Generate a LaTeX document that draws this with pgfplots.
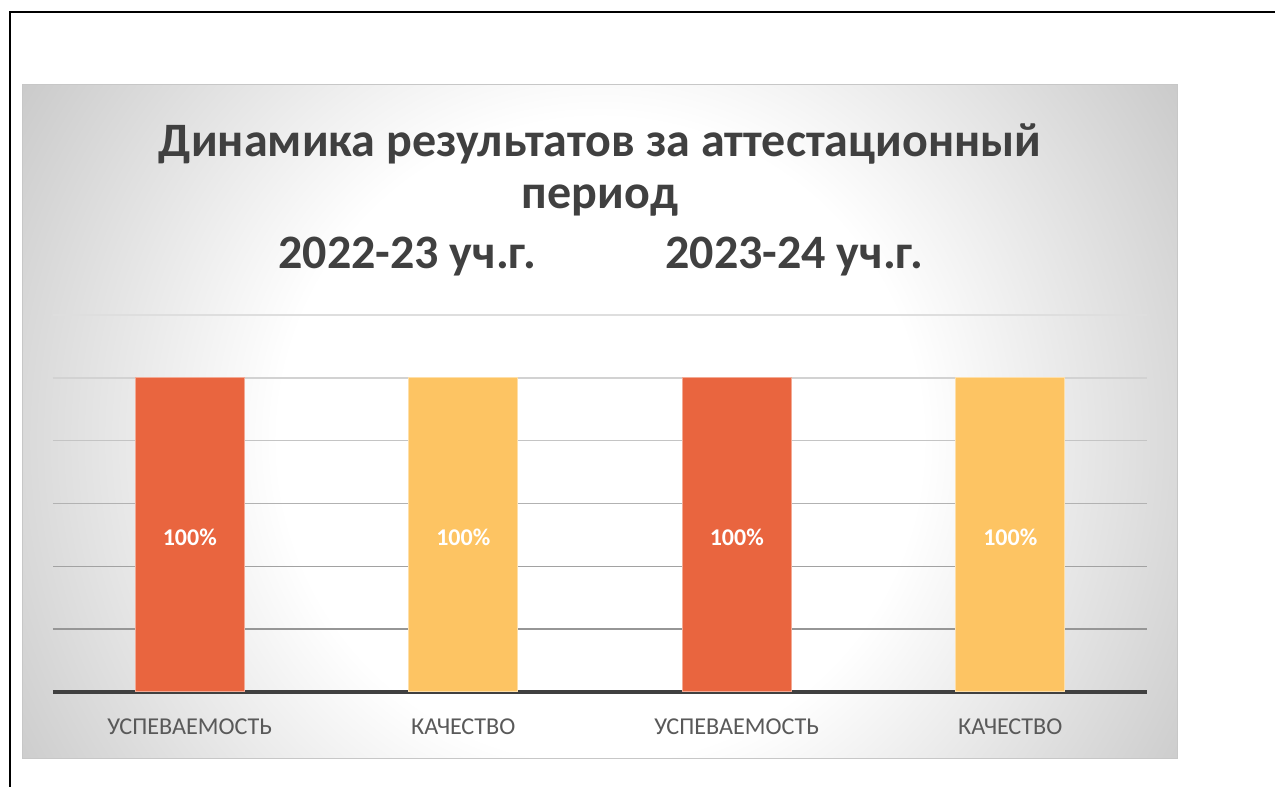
\documentclass[border=0pt]{standalone}
\usepackage{pgfplots}
\pgfplotsset{compat=1.18}
\usepackage{fontspec}
\setmainfont{Carlito}
\definecolor{titlegray}{RGB}{64,64,64}
\definecolor{labgray}{RGB}{89,89,89}
\definecolor{barred}{RGB}{233,101,63}
\definecolor{baryel}{RGB}{253,196,99}
\definecolor{axgray}{RGB}{64,64,64}
\definecolor{bgmid}{RGB}{192,192,192}
\definecolor{bgedge}{RGB}{176,176,176}
\definecolor{g20}{RGB}{150,150,150}
\definecolor{g40}{RGB}{162,162,162}
\definecolor{g60}{RGB}{178,178,178}
\definecolor{g80}{RGB}{196,196,196}
\definecolor{g100}{RGB}{210,210,210}
\definecolor{g120}{RGB}{222,222,222}
\pgfdeclareradialshading{panelbg}{\pgfpoint{0bp}{0bp}}{color(0bp)=(white); color(12bp)=(white); color(28bp)=(bgmid); color(50bp)=(bgedge)}
\begin{document}
\begin{tikzpicture}[x=0.5pt,y=0.5pt]
\path[use as bounding box] (0,0) rectangle (1275,787);
\draw[black, line width=1pt] (10,0) -- (10,775) -- (1275,775);
\begin{scope}
\clip (22,28) rectangle (1177,702);
\shade[shading=panelbg] (-70,-323) rectangle (1270,1017);
\end{scope}
\draw[black!22, line width=0.5pt] (22,28) rectangle (1177,702);
\begin{scope}[every node/.style={inner sep=0pt, font=\fontsize{24}{29}\selectfont\bfseries, text=titlegray}]
\node[anchor=base] at (600,630) {Динамика результатов за аттестационный};
\node[anchor=base] at (600,578) {период};
\node[anchor=base west] at (278,518) {2022-23 уч.г.};
\node[anchor=base west] at (665,518) {2023-24 уч.г.};
\end{scope}
\begin{axis}[at={(26.5pt,47.5pt)}, anchor=south west, scale only axis,
  width=547pt, height=188.5pt,
  xmin=-0.5, xmax=3.5, ymin=0, ymax=120,
  axis x line*=bottom, axis y line=none,
  x axis line style={line width=2pt, color=axgray, -},
  ytick=\empty, xtick={0,1,2,3},
  xticklabels={УСПЕВАЕМОСТЬ,КАЧЕСТВО,УСПЕВАЕМОСТЬ,КАЧЕСТВО},
  major tick length=0pt,
  xticklabel style={font=\fontsize{12.1}{14}\selectfont, text=labgray, anchor=base, yshift=-21.5pt},
  ybar, bar width=54.5pt, bar shift=0pt, clip=false,
  /pgf/number format/assume math mode=true,
  nodes near coords={\pgfmathprintnumber{\pgfplotspointmeta}\%},
  nodes near coords style={font=\bfseries\fontsize{12}{14}\selectfont, text=white, anchor=center, yshift=-79.5pt},
]
\draw[g20, line width=0.75pt] (axis cs:-0.5,20) -- (axis cs:3.5,20);
\draw[g40, line width=0.75pt] (axis cs:-0.5,40) -- (axis cs:3.5,40);
\draw[g60, line width=0.75pt] (axis cs:-0.5,60) -- (axis cs:3.5,60);
\draw[g80, line width=0.75pt] (axis cs:-0.5,80) -- (axis cs:3.5,80);
\draw[g100, line width=0.75pt] (axis cs:-0.5,100) -- (axis cs:3.5,100);
\draw[g120, line width=0.75pt] (axis cs:-0.5,120) -- (axis cs:3.5,120);
\addplot[fill=barred, draw=barred!55!white, line width=0.5pt] coordinates {(0,100) (2,100)};
\addplot[fill=baryel, draw=baryel!55!white, line width=0.5pt] coordinates {(1,100) (3,100)};
\end{axis}
\end{tikzpicture}
\end{document}
